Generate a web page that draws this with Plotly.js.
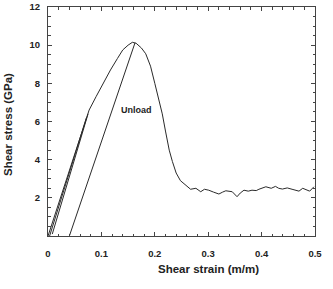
<!DOCTYPE html>
<html><head><meta charset="utf-8">
<script src="https://cdn.plot.ly/plotly-3.0.1.min.js"></script>
<style>html,body{margin:0;padding:0;background:#fff}#c{width:333px;height:289px}</style>
</head><body><div id="c"></div>
<script>
// Main loading / failure curve
var mainStrain = [0,0.02,0.04,0.06,0.077,0.09,0.105,0.117,0.13,0.14,0.15,0.158,0.165,0.175,0.183,0.192,0.2,0.207,0.214,0.22,0.227,0.233,0.24,0.248,0.256,0.267,0.277,0.286,0.293,0.301,0.31,0.32,0.327,0.333,0.345,0.354,0.36,0.367,0.375,0.382,0.39,0.395,0.408,0.418,0.426,0.432,0.439,0.448,0.457,0.463,0.47,0.477,0.483,0.49,0.498];
var mainStress = [0,1.7,3.4,5.1,6.6,7.3,8.1,8.7,9.3,9.75,10.0,10.15,10.1,9.85,9.55,8.9,8.0,7.2,6.4,5.5,4.5,3.9,3.3,2.9,2.7,2.45,2.5,2.32,2.45,2.4,2.3,2.2,2.3,2.37,2.32,2.06,2.25,2.4,2.35,2.4,2.38,2.45,2.58,2.5,2.6,2.5,2.46,2.52,2.45,2.4,2.35,2.5,2.45,2.35,2.58];
// Reloading cycles near the origin
var cycle1Strain = [0.003,0.072];
var cycle1Stress = [0,6.2];
var cycle2Strain = [0.008,0.075];
var cycle2Stress = [0.1,6.4];
// Unloading line
var unloadStrain = [0.163,0.04];
var unloadStress = [10.13,0];

var xTicks = [0,0.1,0.2,0.3,0.4,0.5];
var xTickText = ["0","0.1","0.2","0.3","0.4","0.5"];
var yTicks = [2,4,6,8,10,12];

var lineStyle = {color:'#2a2a2a', width:1};
var traces = [
  {x:mainStrain, y:mainStress, mode:'lines', line:lineStyle, hoverinfo:'skip'},
  {x:cycle1Strain, y:cycle1Stress, mode:'lines', line:lineStyle, hoverinfo:'skip'},
  {x:cycle2Strain, y:cycle2Stress, mode:'lines', line:lineStyle, hoverinfo:'skip'},
  {x:unloadStrain, y:unloadStress, mode:'lines', line:lineStyle, hoverinfo:'skip'}
];
var tickFont = {family:'Liberation Sans, Arial, sans-serif', size:9.5, color:'#222', weight:'bold'};
var layout = {
  width:333, height:289,
  margin:{l:48, r:18, t:7, b:53},
  paper_bgcolor:'#fff', plot_bgcolor:'#fff',
  showlegend:false,
  xaxis:{range:[0,0.5], tickvals:xTicks, ticktext:xTickText, ticks:'inside', ticklen:4, tickcolor:'#444',
         showline:true, linecolor:'#444', linewidth:1, mirror:'ticks', showgrid:false, zeroline:false,
         tickfont:tickFont, ticklabelstandoff:9,
         minor:{dtick:0.02, tick0:0, ticks:'inside', ticklen:2.5, tickcolor:'#444', showgrid:false}},
  yaxis:{range:[0,12], tickvals:yTicks, ticks:'inside', ticklen:4, tickcolor:'#444',
         showline:true, linecolor:'#444', linewidth:1, mirror:'ticks', showgrid:false, zeroline:false,
         tickfont:tickFont, ticklabelstandoff:5,
         minor:{dtick:0.5, tick0:0, ticks:'inside', ticklen:2.5, tickcolor:'#444', showgrid:false}},
  annotations:[
    {text:'Unload', x:0.165, y:6.6, xref:'x', yref:'y', showarrow:false,
     font:{family:'Liberation Sans, Arial, sans-serif', size:9, color:'#222', weight:'bold'}},
    {text:'Shear strain (m/m)', xref:'paper', yref:'paper', showarrow:false, xanchor:'center', yanchor:'middle',
     font:{family:'Liberation Sans, Arial, sans-serif', size:11.5, color:'#222', weight:'bold'}},
    {text:'Shear stress (GPa)', textangle:-90, xref:'paper', yref:'paper', showarrow:false, xanchor:'center', yanchor:'middle',
     font:{family:'Liberation Sans, Arial, sans-serif', size:11.5, color:'#222', weight:'bold'}}
  ]
};
// place title annotations at pixel centres
var pw = 333-48-18, ph = 289-7-53;
layout.annotations[1].x = (208-48)/pw; layout.annotations[1].y = (236-269)/ph;
layout.annotations[2].x = (8-48)/pw; layout.annotations[2].y = (236-125)/ph;
Plotly.newPlot('c', traces, layout, {staticPlot:true, displayModeBar:false});
</script></body></html>
